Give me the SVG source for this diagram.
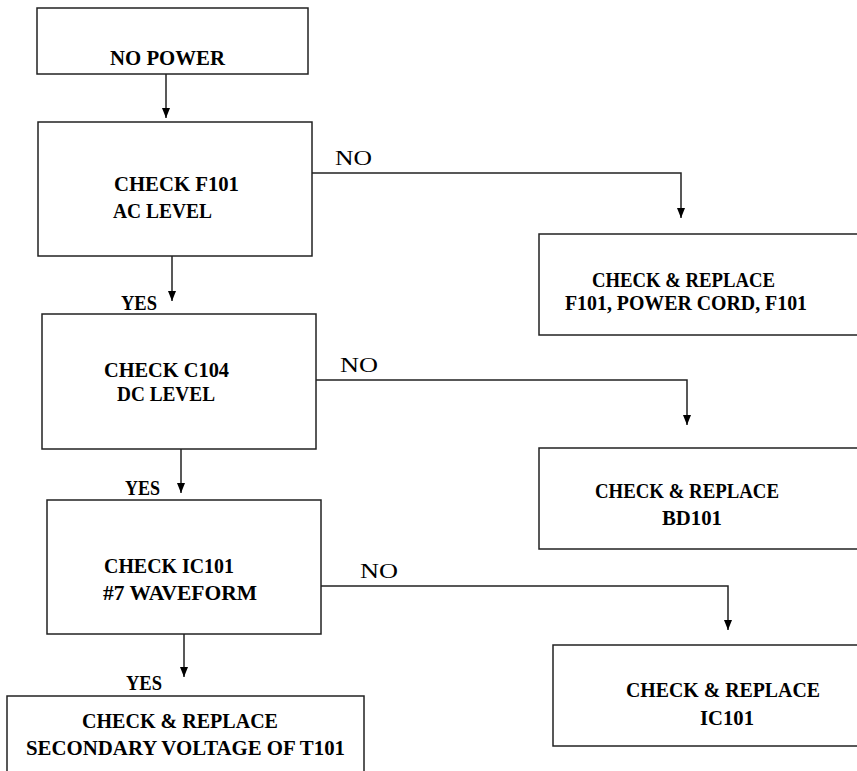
<svg xmlns="http://www.w3.org/2000/svg" width="857" height="771" viewBox="0 0 857 771">
<defs>
<marker id="ah" markerUnits="userSpaceOnUse" markerWidth="10" markerHeight="9" refX="10" refY="4.5" orient="auto" viewBox="0 0 10 9">
<path d="M0,0.5 L10,4.5 L0,8.5 Z" fill="#000"/>
</marker>
</defs>
<style>
.box{fill:#fff;stroke:#222;stroke-width:1.5}
.t{font-family:"Liberation Serif","DejaVu Serif","Times New Roman",serif;font-weight:bold;font-size:21px;fill:#000}
.n{font-family:"Liberation Serif","DejaVu Serif","Times New Roman",serif;font-size:21px;fill:#000}
.c{fill:none;stroke:#222;stroke-width:1.5}
</style>
<rect width="857" height="771" fill="#fff"/>
<g id="connectors">
<path class="c" d="M166,74 V118" marker-end="url(#ah)"/>
<path class="c" d="M172,256 V301" marker-end="url(#ah)"/>
<path class="c" d="M181,449 V493" marker-end="url(#ah)"/>
<path class="c" d="M184,634 V677" marker-end="url(#ah)"/>
<path class="c" d="M312,173 H681 V218" marker-end="url(#ah)"/>
<path class="c" d="M316,380 H687 V425" marker-end="url(#ah)"/>
<path class="c" d="M321,586 H728 V630" marker-end="url(#ah)"/>
<text class="n" x="335" y="165" textLength="37" lengthAdjust="spacingAndGlyphs">NO</text>
<text class="n" x="340" y="372" textLength="38" lengthAdjust="spacingAndGlyphs">NO</text>
<text class="n" x="360" y="578" textLength="38" lengthAdjust="spacingAndGlyphs">NO</text>
<text class="t" x="121" y="310" textLength="36" lengthAdjust="spacingAndGlyphs">YES</text>
<text class="t" x="125" y="495" textLength="35" lengthAdjust="spacingAndGlyphs">YES</text>
<text class="t" x="126" y="690" textLength="36" lengthAdjust="spacingAndGlyphs">YES</text>
</g>
<g id="no-power">
<rect class="box" x="37" y="8" width="271" height="66"/>
<text class="t" x="110" y="65" textLength="115" lengthAdjust="spacingAndGlyphs">NO POWER</text>
</g>
<g id="check-f101">
<rect class="box" x="38" y="122" width="274" height="134"/>
<text class="t" x="114" y="191" textLength="125" lengthAdjust="spacingAndGlyphs">CHECK F101</text>
<text class="t" x="113" y="218" textLength="99" lengthAdjust="spacingAndGlyphs">AC LEVEL</text>
</g>
<g id="check-c104">
<rect class="box" x="42" y="314" width="274" height="135"/>
<text class="t" x="104" y="377" textLength="125" lengthAdjust="spacingAndGlyphs">CHECK C104</text>
<text class="t" x="117" y="401" textLength="98" lengthAdjust="spacingAndGlyphs">DC LEVEL</text>
</g>
<g id="check-ic101">
<rect class="box" x="47" y="500" width="274" height="134"/>
<text class="t" x="104" y="573" textLength="130" lengthAdjust="spacingAndGlyphs">CHECK IC101</text>
<text class="t" x="103" y="600" textLength="154" lengthAdjust="spacingAndGlyphs">#7 WAVEFORM</text>
</g>
<g id="replace-t101">
<rect class="box" x="7" y="696" width="357" height="90"/>
<text class="t" x="82" y="728" textLength="196" lengthAdjust="spacingAndGlyphs">CHECK &amp; REPLACE</text>
<text class="t" x="26" y="755" textLength="319" lengthAdjust="spacingAndGlyphs">SECONDARY VOLTAGE OF T101</text>
</g>
<g id="replace-f101">
<rect class="box" x="539" y="234" width="330" height="101"/>
<text class="t" x="592" y="287" textLength="183" lengthAdjust="spacingAndGlyphs">CHECK &amp; REPLACE</text>
<text class="t" x="565" y="310" textLength="242" lengthAdjust="spacingAndGlyphs">F101, POWER CORD, F101</text>
</g>
<g id="replace-bd101">
<rect class="box" x="539" y="448" width="330" height="101"/>
<text class="t" x="595" y="498" textLength="184" lengthAdjust="spacingAndGlyphs">CHECK &amp; REPLACE</text>
<text class="t" x="662" y="525" textLength="60" lengthAdjust="spacingAndGlyphs">BD101</text>
</g>
<g id="replace-ic101">
<rect class="box" x="553" y="645" width="320" height="101"/>
<text class="t" x="626" y="697" textLength="194" lengthAdjust="spacingAndGlyphs">CHECK &amp; REPLACE</text>
<text class="t" x="700" y="725" textLength="54" lengthAdjust="spacingAndGlyphs">IC101</text>
</g>
</svg>
